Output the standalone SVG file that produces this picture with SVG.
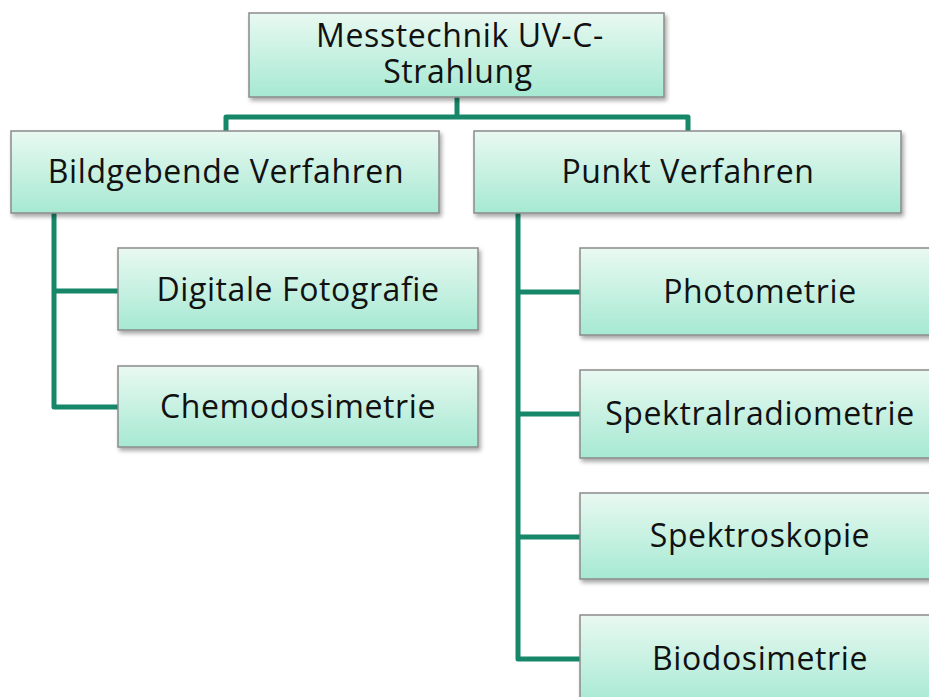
<svg xmlns="http://www.w3.org/2000/svg" width="929" height="697" viewBox="0 0 929 697">
<defs>
<linearGradient id="g" x1="0" y1="0" x2="0" y2="1">
<stop offset="0" stop-color="#e9f9f2"/>
<stop offset="1" stop-color="#a6e9d2"/>
</linearGradient>
<filter id="sh" x="-5%" y="-10%" width="115%" height="130%">
<feDropShadow dx="2" dy="3" stdDeviation="2" flood-color="#000" flood-opacity="0.35"/>
</filter>
<style>
.box{fill:url(#g);stroke:#8a8a8a;stroke-width:1.5;filter:url(#sh)}
.t{font-family:"Open Sans","Noto Sans","DejaVu Sans",sans-serif;font-size:32px;letter-spacing:0.6px;fill:#111;text-anchor:middle}
.c{fill:none;stroke:#168769;stroke-width:5;stroke-linejoin:round;stroke-linecap:butt}
</style>
</defs>
<rect width="929" height="697" fill="#fff"/>
<g id="connectors">
<path class="c" d="M457,97 V117 M226,131 V117 H688 V131"/>
<path class="c" d="M54,213 V407 H118 M54,291 H118"/>
<path class="c" d="M518,213 V659 H580 M518,292 H580 M518,414 H580 M518,537 H580"/>
</g>
<g id="root">
<rect class="box" x="249" y="13" width="415" height="84"/>
<text class="t" x="460" y="47">Messtechnik UV-C-</text>
<text class="t" x="458" y="83">Strahlung</text>
</g>
<g id="bildgebende">
<rect class="box" x="11" y="131" width="428" height="82"/>
<text class="t" x="226" y="183">Bildgebende Verfahren</text>
</g>
<g id="punkt">
<rect class="box" x="474" y="131" width="427" height="82"/>
<text class="t" x="688" y="183">Punkt Verfahren</text>
</g>
<g id="digitale">
<rect class="box" x="118" y="248" width="360" height="82"/>
<text class="t" x="298" y="301">Digitale Fotografie</text>
</g>
<g id="chemo">
<rect class="box" x="118" y="366" width="360" height="81"/>
<text class="t" x="298" y="418">Chemodosimetrie</text>
</g>
<g id="photometrie">
<rect class="box" x="580" y="248" width="360" height="87"/>
<text class="t" x="760" y="303">Photometrie</text>
</g>
<g id="spektralradiometrie">
<rect class="box" x="580" y="370" width="360" height="88"/>
<text class="t" x="760" y="425">Spektralradiometrie</text>
</g>
<g id="spektroskopie">
<rect class="box" x="580" y="493" width="360" height="86"/>
<text class="t" x="760" y="547">Spektroskopie</text>
</g>
<g id="biodosimetrie">
<rect class="box" x="580" y="615" width="360" height="90"/>
<text class="t" x="760" y="670">Biodosimetrie</text>
</g>
</svg>
